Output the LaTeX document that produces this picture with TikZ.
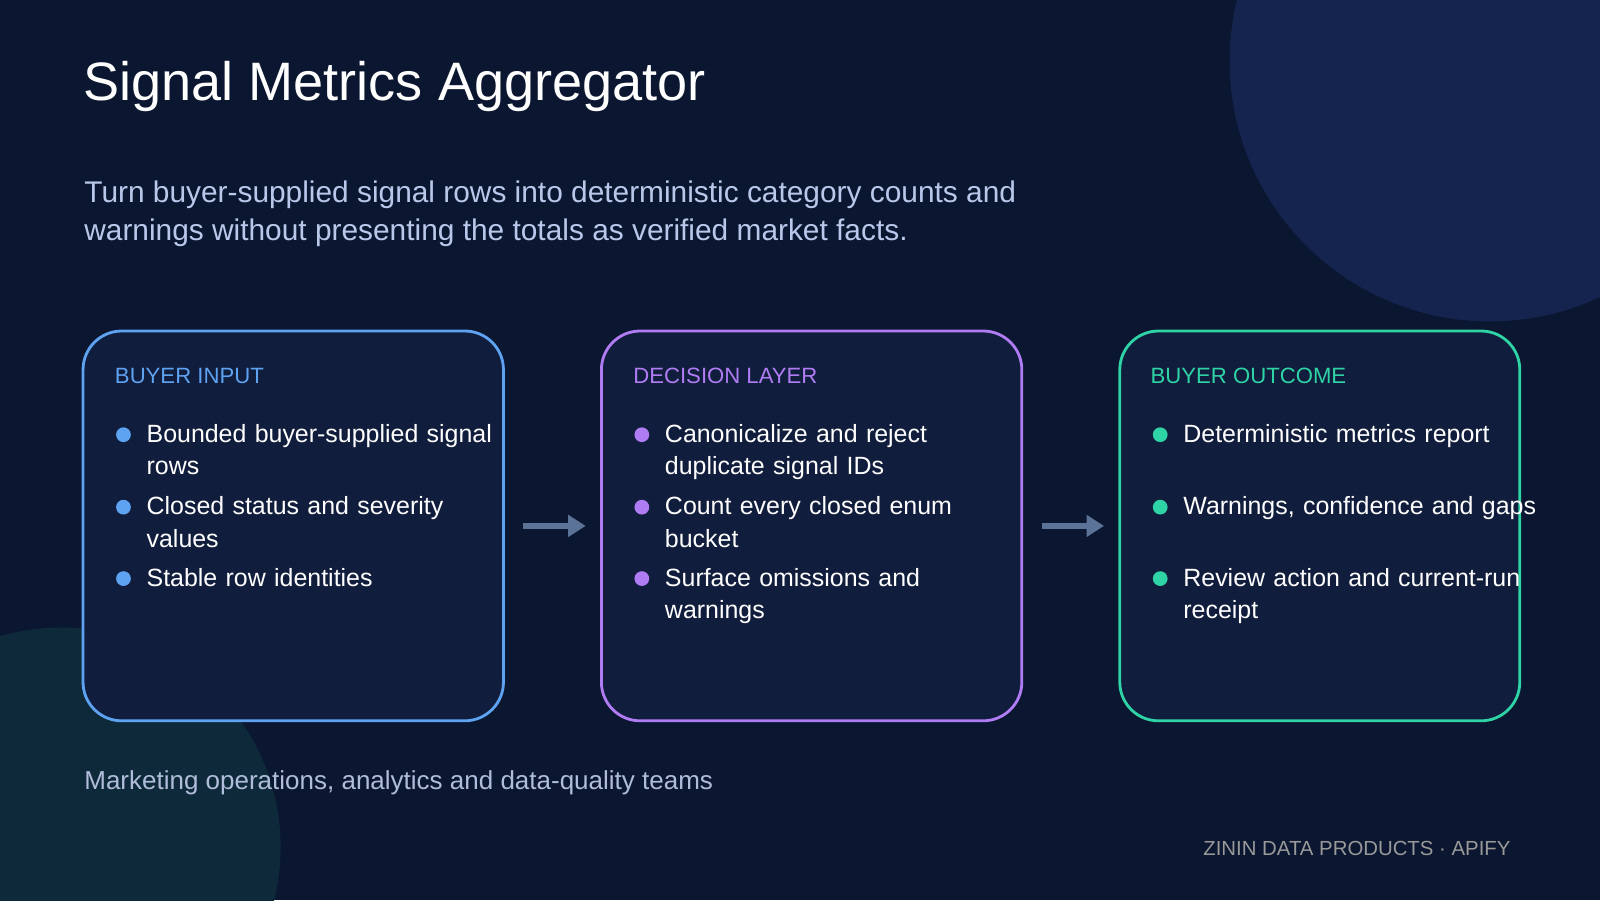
\documentclass[tikz,border=0pt]{standalone}
\usepackage{fontspec}
\setmainfont{Liberation Sans}
\usetikzlibrary{arrows.meta}
\definecolor{bg}{HTML}{0B1630}
\definecolor{boxfill}{HTML}{111D3C}
\definecolor{inblue}{HTML}{5EA2F2}
\definecolor{decpurple}{HTML}{B07CF4}
\definecolor{outteal}{HTML}{2ED3A6}
\definecolor{subtext}{HTML}{B9C8EA}
\definecolor{arrowgray}{HTML}{5A7396}
\definecolor{blobblue}{HTML}{14244E}
\definecolor{blobteal}{HTML}{0E2A3A}
\tikzset{
  stage/.style={draw, line width=0.8pt, rounded corners=11pt, fill=boxfill, minimum width=412*0.010204cm, minimum height=382*0.010204cm, anchor=north west},
  head/.style={anchor=west, inner sep=0pt, font=\fontsize{6.3}{9}\selectfont},
  item/.style={anchor=north west, text=white, text width=3.55cm, align=left, inner sep=0pt, font=\fontsize{7.1}{9.3}\selectfont},
  dot/.style={circle, inner sep=0pt, minimum size=4.2pt},
  flow/.style={-{Triangle[length=5pt,width=6pt]}, line width=1.5pt, arrowgray}
}
\begin{document}
\hyphenpenalty=10000
\exhyphenpenalty=10000
\begin{tikzpicture}[x=0.010204cm, y=-0.010204cm]
\fill[bg] (0,0) rectangle (1568,882);
\useasboundingbox (0,0) rectangle (1568,882);
\begin{scope}
\clip (0,0) rectangle (1568,882);
\fill[blobblue] (1460,60) circle (255);
\fill[blobteal] (60,830) circle (215);
\end{scope}

\node[anchor=base west, text=white, inner sep=0pt, font=\fontsize{15.4}{18}\selectfont] (title) at (81,98) {Signal Metrics Aggregator};
\node[anchor=north west, text=subtext, align=left, font=\fontsize{8.5}{10.6}\selectfont, inner sep=0pt] (sub) at (82,177)
  {Turn buyer-supplied signal rows into deterministic category counts and\\warnings without presenting the totals as verified market facts.};

\node[stage, draw=inblue] (input) at (80,323) {};
\node[stage, draw=decpurple] (decision) at (588,323) {};
\node[stage, draw=outteal, minimum width=392*0.010204cm] (outcome) at (1096,323) {};

\node[head, text=inblue] (hin) at (112,368) {BUYER INPUT};
\node[head, text=decpurple] (hdec) at (620,368) {DECISION LAYER};
\node[head, text=outteal] (hout) at (1127,368) {BUYER OUTCOME};

% buyer input
\node[dot, fill=inblue] (d11) at (121,426) {};
\node[item] (i11) at (143,415) {Bounded buyer-supplied signal rows};
\node[dot, fill=inblue] (d12) at (121,497) {};
\node[item] (i12) at (143,486) {Closed status and severity values};
\node[dot, fill=inblue] (d13) at (121,567) {};
\node[item] (i13) at (143,556) {Stable row identities};

% decision layer
\node[dot, fill=decpurple] (d21) at (629,426) {};
\node[item, text width=3.05cm] (i21) at (651,415) {Canonicalize and reject duplicate signal IDs};
\node[dot, fill=decpurple] (d22) at (629,497) {};
\node[item, text width=3.05cm] (i22) at (651,486) {Count every closed enum bucket};
\node[dot, fill=decpurple] (d23) at (629,567) {};
\node[item, text width=3.05cm] (i23) at (651,556) {Surface omissions and warnings};

% buyer outcome
\node[dot, fill=outteal] (d31) at (1137,426) {};
\node[item] (i31) at (1159,415) {Deterministic metrics report};
\node[dot, fill=outteal] (d32) at (1137,497) {};
\node[item, text width=4cm] (i32) at (1159,486) {Warnings, confidence and gaps};
\node[dot, fill=outteal] (d33) at (1137,567) {};
\node[item, text width=3.4cm] (i33) at (1159,556) {Review action and current-run receipt};

\draw[flow] ([xshift=18*0.010204cm]input.east) -- ([xshift=-14*0.010204cm]decision.west);
\draw[flow] ([xshift=18*0.010204cm]decision.east) -- ([xshift=-14*0.010204cm]outcome.west);

\node[anchor=base west, text=subtext!85!gray, font=\fontsize{7.4}{9}\selectfont, inner sep=0pt] (aud) at (82,774) {Marketing operations, analytics and data-quality teams};
\node[anchor=base east, text=gray!80, font=\fontsize{5.8}{7}\selectfont, inner sep=0pt] (foot) at (1481,838) {ZININ DATA PRODUCTS · APIFY};
\end{tikzpicture}
\end{document}
